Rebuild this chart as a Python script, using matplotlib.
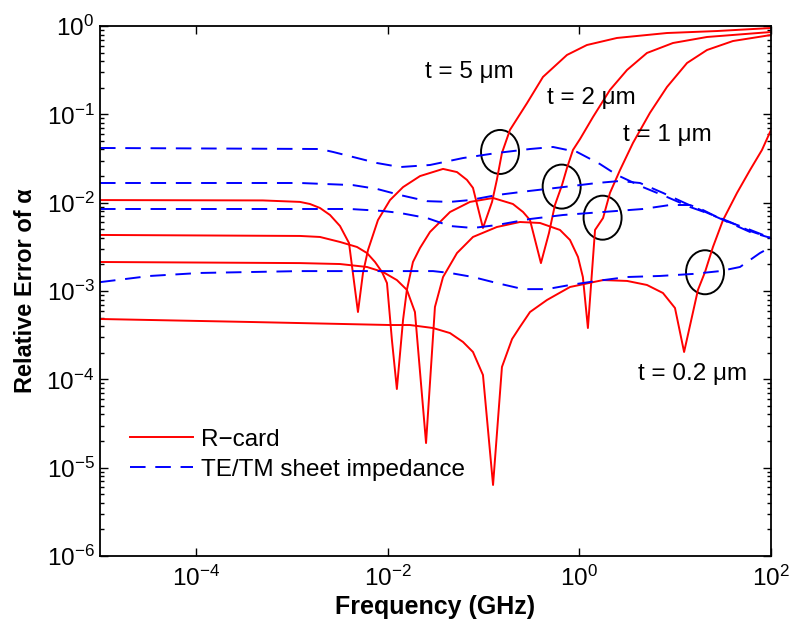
import matplotlib
matplotlib.use("Agg")
import matplotlib.pyplot as plt
import matplotlib.transforms as mtransforms
from matplotlib.patches import Ellipse
from matplotlib.ticker import FixedLocator, LogLocator, NullLocator, LogFormatterSciNotation

plt.rcParams["font.family"] = ["Liberation Sans", "DejaVu Sans"]
plt.rcParams["mathtext.fontset"] = "custom"
plt.rcParams["mathtext.rm"] = "Liberation Sans"
plt.rcParams["mathtext.it"] = "Liberation Sans:italic"
plt.rcParams["mathtext.bf"] = "Liberation Sans:bold"
plt.rcParams["mathtext.default"] = "regular"

# ========= data =========

# R-card, t = 5 um
f_r5 = [1e-5, 5e-4, 1.22e-3, 1.55e-3, 1.97e-3, 2.51e-3, 3.19e-3, 3.96e-3, 4.91e-3, 5.54e-3,
        6.25e-3, 7.94e-3, 1.06e-2, 1.45e-2, 2.18e-2, 3.79e-2, 5.30e-2, 6.73e-2, 7.78e-2,
        9.89e-2, 0.123, 0.138, 0.156, 0.189, 0.285, 0.418, 0.744, 1.20, 2.47, 8.22, 27.3, 100]
e_r5 = [1.07e-2, 1.06e-2, 1.02e-2, 9.66e-3, 8.71e-3, 7.25e-3, 5.44e-3, 3.49e-3, 5.78e-4, 1.60e-3,
        2.91e-3, 6.36e-3, 1.07e-2, 1.50e-2, 2.00e-2, 2.41e-2, 2.22e-2, 1.81e-2, 1.47e-2,
        5.17e-3, 1.02e-2, 1.81e-2, 3.65e-2, 6.65e-2, 0.134, 0.265, 0.470, 0.609, 0.732, 0.833,
        0.877, 0.949]

# R-card, t = 2 um
f_r2 = [1e-5, 1.22e-3, 1.97e-3, 3.19e-3, 4.80e-3, 6.10e-3, 7.40e-3, 8.75e-3, 9.86e-3, 1.11e-2,
        1.25e-2, 1.45e-2, 1.59e-2, 1.84e-2, 2.18e-2, 2.77e-2, 4.48e-2, 7.24e-2, 0.126, 0.203,
        0.259, 0.306, 0.398, 0.483, 0.557, 0.660, 0.744, 0.859, 1.02, 1.39, 2.09, 3.15, 5.08,
        9.49, 21.5, 100]
e_r2 = [4.31e-3, 4.20e-3, 4.09e-3, 3.59e-3, 3.15e-3, 2.69e-3, 2.13e-3, 1.64e-3, 1.23e-3, 2.79e-4,
        7.77e-5, 4.70e-4, 1.03e-3, 2.13e-3, 3.07e-3, 4.66e-3, 7.84e-3, 1.02e-2, 1.13e-2, 9.66e-3,
        7.84e-3, 6.36e-3, 2.07e-3, 4.54e-3, 9.41e-3, 1.58e-2, 2.47e-2, 3.95e-2, 5.27e-2, 9.33e-2,
        0.189, 0.318, 0.495, 0.642, 0.751, 0.855]

# R-card, t = 1 um
f_r1 = [1e-5, 1.22e-3, 3.19e-3, 6.10e-3, 8.96e-3, 1.25e-2, 1.59e-2, 1.93e-2, 2.52e-2, 3.12e-2,
        3.79e-2, 5.30e-2, 7.78e-2, 0.138, 0.240, 0.389, 0.629, 0.800, 0.969, 1.09, 1.23, 1.46,
        1.77, 2.09, 2.66, 3.63, 5.46, 8.22, 13.3, 21.5, 40.1, 100]
e_r1 = [2.13e-3, 2.07e-3, 2.02e-3, 1.87e-3, 1.64e-3, 1.33e-3, 1.03e-3, 5.78e-4, 1.90e-5, 6.59e-4,
        1.44e-3, 2.69e-3, 4.09e-3, 5.30e-3, 6.04e-3, 5.89e-3, 4.91e-3, 3.78e-3, 2.43e-3, 1.44e-3,
        3.81e-4, 4.91e-3, 6.70e-3, 1.29e-2, 2.34e-2, 4.74e-2, 0.104, 0.204, 0.381, 0.535, 0.676,
        0.791]

# R-card, t = 0.2 um
f_r02 = [1e-5, 3.67e-4, 1.06e-2, 1.71e-2, 2.98e-2, 4.48e-2, 6.12e-2, 7.78e-2, 9.89e-2, 0.126,
         0.156, 0.199, 0.240, 0.306, 0.460, 0.800, 1.77, 3.15, 5.08, 7.46, 9.96, 12.4, 17.3,
         20.5, 24.8, 31.6, 44.2, 60.4, 80.5, 100]
e_r02 = [4.82e-4, 4.46e-4, 4.12e-4, 4.12e-4, 3.81e-4, 3.34e-4, 2.65e-4, 2.04e-4, 1.12e-4, 6.37e-6,
         1.38e-4, 2.86e-4, 3.91e-4, 5.78e-4, 7.91e-4, 1.11e-3, 1.33e-3, 1.30e-3, 1.17e-3, 9.49e-4,
         6.42e-4, 2.04e-4, 1.03e-3, 1.64e-3, 3.15e-3, 6.36e-3, 1.29e-2, 2.34e-2, 3.95e-2, 6.65e-2]

# TE/TM sheet impedance, t = 5 um
f_s5 = [1e-5, 1.97e-3, 2.70e-3, 4.36e-3, 7.76e-3, 1.35e-2, 2.77e-2, 6.12e-2, 0.138, 0.306,
        0.532, 0.946, 1.64, 2.47, 4.61, 8.22, 14.3, 23.1, 37.3, 60.4, 100]
e_s5 = [0.0416, 0.0405, 0.0375, 0.0329, 0.0281, 0.0253, 0.0267, 0.0320, 0.0365, 0.0405,
        0.0427, 0.0375, 0.0274, 0.0206, 0.0150, 0.0116, 0.00893, 0.00744, 0.00589, 0.00466,
        0.00398]

# TE/TM sheet impedance, t = 2 um
f_s2 = [1e-5, 1.22e-3, 4.36e-3, 7.76e-3, 1.35e-2, 2.58e-2, 4.48e-2, 7.24e-2, 0.138, 0.306,
        0.676, 1.53, 2.66, 4.30, 7.46, 13.3, 23.1, 37.3, 60.4, 100]
e_s2 = [0.0167, 0.0167, 0.0158, 0.0143, 0.0122, 0.0104, 0.0102, 0.0107, 0.0122, 0.0136,
        0.0150, 0.0167, 0.0176, 0.0167, 0.0129, 0.00966, 0.00744, 0.00604, 0.00478, 0.00398]

# TE/TM sheet impedance, t = 1 um
f_s1 = [1e-5, 1.22e-3, 4.06e-3, 8.96e-3, 1.35e-2, 2.58e-2, 4.48e-2, 7.78e-2, 0.138, 0.306,
        0.676, 1.77, 4.61, 8.83, 14.3, 19.5, 31.6, 51.0, 100]
e_s1 = [8.48e-3, 8.48e-3, 8.48e-3, 8.05e-3, 7.64e-3, 6.70e-3, 5.44e-3, 5.17e-3, 5.58e-3, 6.53e-3,
        7.25e-3, 7.84e-3, 8.48e-3, 9.41e-3, 9.41e-3, 8.26e-3, 6.36e-3, 5.30e-3, 3.98e-3]

# TE/TM sheet impedance, t = 0.2 um
f_s02 = [1e-5, 3.32e-5, 1.10e-4, 1.22e-3, 2.98e-2, 4.48e-2, 7.78e-2, 0.138, 0.259, 0.460, 0.800,
         1.53, 3.15, 6.95, 15.3, 29.4, 47.5, 76.7, 100]
e_s02 = [1.26e-3, 1.48e-3, 1.60e-3, 1.68e-3, 1.68e-3, 1.60e-3, 1.44e-3, 1.23e-3, 1.05e-3, 1.05e-3,
         1.17e-3, 1.30e-3, 1.44e-3, 1.48e-3, 1.56e-3, 1.68e-3, 1.87e-3, 2.69e-3, 3.15e-3]

# crossing points marked with circles
circle_f = [0.149, 0.655, 1.75, 20.5]
circle_e = [0.0375, 0.0152, 6.76e-3, 1.63e-3]

labels = ["t = 5 \u03bcm", "t = 2 \u03bcm", "t = 1 \u03bcm", "t = 0.2 \u03bcm"]
label_f = [0.0245, 0.460, 2.86, 4.09]
label_e = [0.301, 0.153, 0.0583, 1.15e-4]

x_ticks = [1e-4, 1e-2, 1e0, 1e2]

# ========= plot =========

fig = plt.figure(figsize=(7.9, 6.28), dpi=100)
ax = fig.add_axes([100 / 790, 72 / 628, 671 / 790, 530 / 628])

rcard = [(f_r5, e_r5), (f_r2, e_r2), (f_r1, e_r1), (f_r02, e_r02)]
sheet = [(f_s5, e_s5), (f_s2, e_s2), (f_s1, e_s1), (f_s02, e_s02)]

for i, (f, e) in enumerate(rcard):
    ax.plot(f, e, color="#ff0000", lw=1.4, label="R\u2212card" if i == 0 else None)
for i, (f, e) in enumerate(sheet):
    ln, = ax.plot(f, e, color="#0000ff", lw=1.4,
                  label="TE/TM sheet impedance" if i == 0 else None)
    ln.set_dashes([8, 5])

ax.set_xscale("log")
ax.set_yscale("log")
ax.set_xlim(1e-5, 1e2)
ax.set_ylim(1e-6, 1)

for fc, ec in zip(circle_f, circle_e):
    tr = fig.dpi_scale_trans + mtransforms.ScaledTranslation(fc, ec, ax.transData)
    ax.add_patch(Ellipse((0, 0), 0.38, 0.44, transform=tr, fill=False,
                         edgecolor="black", lw=1.4))

for txt, fx, ey in zip(labels, label_f, label_e):
    ax.text(fx, ey, txt, fontsize=17.5, ha="left", va="center")

ax.xaxis.set_major_locator(FixedLocator(x_ticks))
ax.xaxis.set_major_formatter(LogFormatterSciNotation(base=10))
ax.xaxis.set_minor_locator(NullLocator())
ax.yaxis.set_major_locator(LogLocator(base=10, numticks=10))
ax.yaxis.set_minor_locator(LogLocator(base=10, subs=range(2, 10), numticks=20))

ax.tick_params(which="both", direction="in", top=True, right=True, labelsize=17.5)
ax.tick_params(which="major", length=6, width=1.0)
ax.tick_params(which="minor", length=3, width=1.0)
ax.tick_params(axis="x", pad=7)
ax.tick_params(axis="y", pad=4)
for sp in ax.spines.values():
    sp.set_linewidth(1.3)
ax.xaxis.get_offset_text().set_visible(False)
ax.yaxis.get_offset_text().set_visible(False)

ax.set_xlabel("Frequency (GHz)", fontsize=18, fontweight="bold", labelpad=3)
ax.set_ylabel("Relative Error of \u03b1", fontsize=17, fontweight="bold", labelpad=7)

ax.legend(loc="upper left", bbox_to_anchor=(0.045, 0.240), frameon=False, fontsize=17.5,
          handlelength=2.6, handletextpad=0.3, borderpad=0, borderaxespad=0,
          labelspacing=0.33)

fig.savefig("out.png", dpi=100)
